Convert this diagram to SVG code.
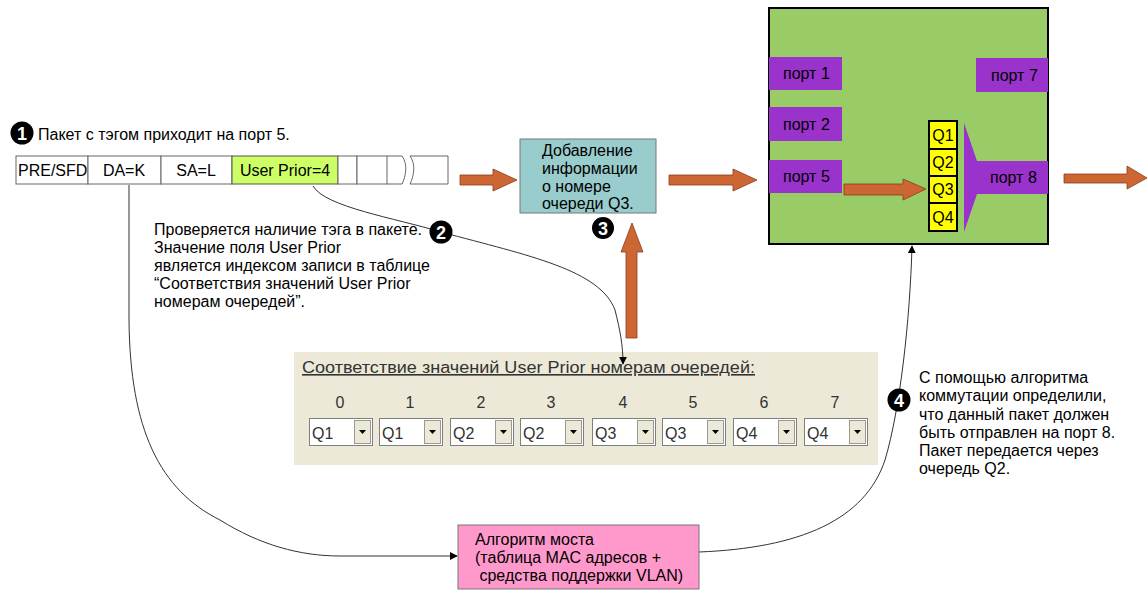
<svg xmlns="http://www.w3.org/2000/svg" width="1148" height="590" viewBox="0 0 1148 590">
<defs>
<style>
.t{font-family:"Liberation Sans",Arial,sans-serif;font-size:16px;fill:#000}
.cell{fill:#fff;stroke:#666;stroke-width:1}
.port{fill:#9933cc}
.q{fill:#ffff00;stroke:#000;stroke-width:2}
.oa{fill:#cc6633;stroke:#8a3d1c;stroke-width:0.8}
.con{fill:none;stroke:#333;stroke-width:1}
.num{fill:#000}
.numt{font-family:"Liberation Sans",Arial,sans-serif;font-size:18px;font-weight:bold;fill:#fff;text-anchor:middle}
.dd{fill:#fff;stroke:#7f7f7f;stroke-width:1}
.btn{fill:#ece9d8;stroke:#9a9a90;stroke-width:1}
.ddt{font-family:"Liberation Sans",Arial,sans-serif;font-size:16px;fill:#333}
.idx{font-family:"Liberation Sans",Arial,sans-serif;font-size:16px;fill:#333;text-anchor:middle}
</style>
<marker id="ah" viewBox="0 0 10 10" refX="9" refY="5" markerWidth="8" markerHeight="8" markerUnits="userSpaceOnUse" orient="auto">
<path d="M0,0 L10,5 L0,10 z" fill="#000"/>
</marker>
</defs>
<rect width="1148" height="590" fill="#fff"/>

<g id="packet">
<rect class="cell" x="16" y="156" width="72" height="28"/>
<rect class="cell" x="88" y="156" width="73" height="28"/>
<rect class="cell" x="161" y="156" width="71" height="28"/>
<rect x="232" y="156" width="106" height="28" fill="#ccff66" stroke="#555"/>
<rect class="cell" x="338" y="156" width="19" height="28"/>
<rect class="cell" x="357" y="156" width="30" height="28"/>
<path d="M387,156 H402 M387,184 H402 M410,156 H448 V184 H410" fill="none" stroke="#666"/>
<path d="M402,156 C408,164 406,176 402,184 M410,156 C416,164 414,176 410,184" fill="none" stroke="#666"/>
<text class="t" x="18" y="176">PRE/SFD</text>
<text class="t" x="124" y="176" text-anchor="middle">DA=K</text>
<text class="t" x="196" y="176" text-anchor="middle">SA=L</text>
<text class="t" x="285" y="176" text-anchor="middle">User Prior=4</text>
</g>

<g id="arrow1"><path class="oa" d="M460,175 H493 V169 L517,180 L493,191 V185 H460 z"/></g>

<g id="addinfo">
<rect x="520" y="139" width="136" height="74" fill="#99cccc" stroke="#777"/>
<text class="t" x="542" y="156">Добавление</text>
<text class="t" x="542" y="174">информации</text>
<text class="t" x="542" y="192">о номере</text>
<text class="t" x="542" y="209">очереди Q3.</text>
</g>

<g id="arrow3"><path class="oa" d="M626,338 V252 H621 L632,223 L643,252 H637 V338 z"/></g>

<g id="arrow2"><path class="oa" d="M669,175 H733 V169 L757,180 L733,191 V185 H669 z"/></g>

<g id="switch">
<rect x="769" y="8" width="279" height="236" fill="#99cc66" stroke="#000" stroke-width="2"/>
<rect class="port" x="769" y="57" width="73" height="33"/>
<rect class="port" x="769" y="107" width="73" height="34"/>
<rect class="port" x="769" y="160" width="73" height="33"/>
<rect class="port" x="976" y="58" width="72" height="34"/>
<polygon class="port" points="964,123 977,161 1048,161 1048,194 977,194 964,232"/>
<text class="t" x="783" y="79">порт 1</text>
<text class="t" x="783" y="130">порт 2</text>
<text class="t" x="783" y="182">порт 5</text>
<text class="t" x="991" y="81">порт 7</text>
<text class="t" x="990" y="183">порт 8</text>
<rect class="q" x="929" y="121" width="28" height="28"/>
<rect class="q" x="929" y="149" width="28" height="27"/>
<rect class="q" x="929" y="176" width="28" height="27"/>
<rect class="q" x="929" y="203" width="28" height="28"/>
<text class="t" x="943" y="141" text-anchor="middle">Q1</text>
<text class="t" x="943" y="168" text-anchor="middle">Q2</text>
<text class="t" x="943" y="195" text-anchor="middle">Q3</text>
<text class="t" x="943" y="223" text-anchor="middle">Q4</text>
<path class="oa" d="M844,184 H903 V179 L926,189 L903,200 V195 H844 z"/>
</g>

<g id="arrowOut"><path class="oa" d="M1064,174 H1127 V166 L1147,178 L1127,189 V183 H1064 z"/></g>

<g id="table">
<rect x="294" y="352" width="584" height="113" fill="#ece9d8"/>
<text x="302" y="373" textLength="453" lengthAdjust="spacingAndGlyphs" text-decoration="underline" style="font-family:'Liberation Sans',Arial,sans-serif;font-size:16px;fill:#333">Соответствие значений User Prior номерам очередей:</text>
<g id="dd0" transform="translate(309,0)"><text class="idx" x="31" y="408">0</text><rect class="dd" x="0.5" y="418.5" width="63" height="27"/><rect class="btn" x="45.5" y="420.5" width="16" height="23"/><path d="M50,430 h7 l-3.5,4 z" fill="#000"/><text class="ddt" x="3" y="439">Q1</text></g>
<g id="dd1" transform="translate(379,0)"><text class="idx" x="31" y="408">1</text><rect class="dd" x="0.5" y="418.5" width="63" height="27"/><rect class="btn" x="45.5" y="420.5" width="16" height="23"/><path d="M50,430 h7 l-3.5,4 z" fill="#000"/><text class="ddt" x="3" y="439">Q1</text></g>
<g id="dd2" transform="translate(450,0)"><text class="idx" x="31" y="408">2</text><rect class="dd" x="0.5" y="418.5" width="63" height="27"/><rect class="btn" x="45.5" y="420.5" width="16" height="23"/><path d="M50,430 h7 l-3.5,4 z" fill="#000"/><text class="ddt" x="3" y="439">Q2</text></g>
<g id="dd3" transform="translate(520,0)"><text class="idx" x="31" y="408">3</text><rect class="dd" x="0.5" y="418.5" width="63" height="27"/><rect class="btn" x="45.5" y="420.5" width="16" height="23"/><path d="M50,430 h7 l-3.5,4 z" fill="#000"/><text class="ddt" x="3" y="439">Q2</text></g>
<g id="dd4" transform="translate(592,0)"><text class="idx" x="31" y="408">4</text><rect class="dd" x="0.5" y="418.5" width="63" height="27"/><rect class="btn" x="45.5" y="420.5" width="16" height="23"/><path d="M50,430 h7 l-3.5,4 z" fill="#000"/><text class="ddt" x="3" y="439">Q3</text></g>
<g id="dd5" transform="translate(662,0)"><text class="idx" x="31" y="408">5</text><rect class="dd" x="0.5" y="418.5" width="63" height="27"/><rect class="btn" x="45.5" y="420.5" width="16" height="23"/><path d="M50,430 h7 l-3.5,4 z" fill="#000"/><text class="ddt" x="3" y="439">Q3</text></g>
<g id="dd6" transform="translate(733,0)"><text class="idx" x="31" y="408">6</text><rect class="dd" x="0.5" y="418.5" width="63" height="27"/><rect class="btn" x="45.5" y="420.5" width="16" height="23"/><path d="M50,430 h7 l-3.5,4 z" fill="#000"/><text class="ddt" x="3" y="439">Q4</text></g>
<g id="dd7" transform="translate(804,0)"><text class="idx" x="31" y="408">7</text><rect class="dd" x="0.5" y="418.5" width="63" height="27"/><rect class="btn" x="45.5" y="420.5" width="16" height="23"/><path d="M50,430 h7 l-3.5,4 z" fill="#000"/><text class="ddt" x="3" y="439">Q4</text></g>
</g>

<g id="connectors">
<path class="con" d="M129,185 V320 C130,430 160,490 220,520 C260,545 300,556 340,556 H457" marker-end="url(#ah)"/>
<path class="con" d="M313,186 C325,207 395,218 441,232 C530,256 600,270 615,310 C620,330 623,345 623,364" marker-end="url(#ah)"/>
<path class="con" d="M699,552 C800,548 865,520 885,460 C900,410 910,320 912,246" marker-end="url(#ah)"/>
</g>

<g id="step1">
<circle class="num" cx="22" cy="133" r="11.5"/>
<text class="numt" x="22" y="139.5">1</text>
<text class="t" x="38" y="140">Пакет с тэгом приходит на порт 5.</text>
</g>

<g id="step2">
<circle class="num" cx="441" cy="232" r="11.5"/>
<text class="numt" x="441" y="238.5">2</text>
<text class="t" x="154" y="235">Проверяется наличие тэга в пакете.</text>
<text class="t" x="154" y="253">Значение поля User Prior</text>
<text class="t" x="154" y="271">является индексом записи в таблице</text>
<text class="t" x="154" y="289">“Соответствия значений User Prior</text>
<text class="t" x="154" y="307">номерам очередей”.</text>
</g>

<g id="step3">
<circle class="num" cx="603" cy="228" r="11"/>
<text class="numt" x="603" y="234.5">3</text>
</g>

<g id="step4">
<circle class="num" cx="899" cy="400" r="11.5"/>
<text class="numt" x="899" y="406.5">4</text>
<text class="t" x="919" y="383">С помощью алгоритма</text>
<text class="t" x="919" y="401">коммутации определили,</text>
<text class="t" x="919" y="420">что данный пакет должен</text>
<text class="t" x="919" y="438">быть отправлен на порт 8.</text>
<text class="t" x="919" y="456">Пакет передается через</text>
<text class="t" x="919" y="474">очередь Q2.</text>
</g>

<g id="bridge">
<rect x="458" y="525" width="241" height="64" fill="#ff99cc" stroke="#777"/>
<text class="t" x="475" y="545">Алгоритм моста</text>
<text class="t" x="475" y="563">(таблица MAC адресов +</text>
<text class="t" x="475" y="581" xml:space="preserve"> средства поддержки VLAN)</text>
</g>
</svg>
